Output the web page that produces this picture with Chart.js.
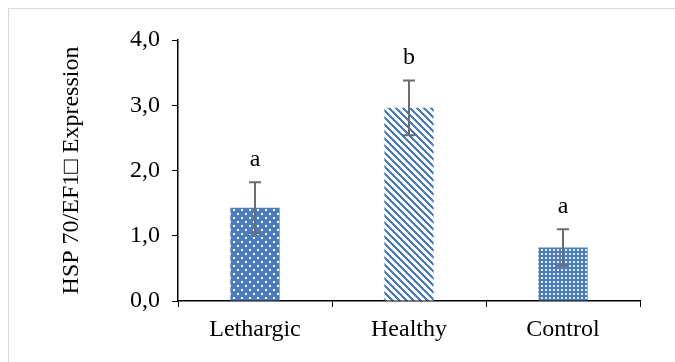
<!DOCTYPE html>
<html>
<head>
<meta charset="utf-8">
<script src="https://cdn.jsdelivr.net/npm/chart.js@4"></script>
<style>
    html, body { margin: 0; padding: 0; background: #fff; }
    #wrap { position: relative; width: 675px; height: 362px; overflow: hidden; }
    #frame { position: absolute; left: 8px; top: 8px; width: 700px; height: 400px; border: 1px solid #d9d9d9; box-sizing: border-box; }
    canvas { position: absolute; left: 0; top: 0; }
</style>
</head>
<body>
<div id="wrap">
    <div id="frame"></div>
    <canvas id="chart" width="675" height="362"></canvas>
</div>
<script>
// Chart data
const categories = ['Lethargic', 'Healthy', 'Control'];
const expression = [1.43, 2.96, 0.82];
const errors = [0.39, 0.42, 0.28];
const letters = ['a', 'b', 'a'];
const yTicks = [0, 1, 2, 3, 4];

const BLUE = '#4a7dc0';
const FONT = "'Liberation Serif', 'Times New Roman', serif";
const FONT_SIZE = 24;

Chart.defaults.font.family = FONT;
Chart.defaults.font.size = FONT_SIZE;
Chart.defaults.color = '#000';

// Fill patterns like the Excel pattern fills
function makePattern(kind) {
    const c = document.createElement('canvas');
    const g = c.getContext('2d');
    if (kind === 'dots') {
        c.width = 8; c.height = 8;
        g.fillStyle = BLUE; g.fillRect(0, 0, 8, 8);
        g.fillStyle = '#ffffff';
        g.fillRect(1, 1, 2, 2);
        g.fillRect(5, 5, 2, 2);
    } else if (kind === 'diag') {
        c.width = 7; c.height = 7;
        g.fillStyle = '#ffffff'; g.fillRect(0, 0, 7, 7);
        g.fillStyle = BLUE;
        for (let r = 0; r < 7; r++) {
            for (let col = 0; col < 7; col++) {
                if (((col - r) % 7 + 7) % 7 < 3) g.fillRect(col, r, 1, 1);
            }
        }
    } else {
        c.width = 4; c.height = 4;
        g.fillStyle = BLUE; g.fillRect(0, 0, 4, 4);
        g.fillStyle = 'rgba(255,255,255,0.85)';
        g.fillRect(1, 1, 2, 2);
    }
    return document.getElementById('chart').getContext('2d').createPattern(c, 'repeat');
}

// Error bars and significance letters
const errorBarPlugin = {
    id: 'errorBars',
    afterDatasetsDraw(chart) {
        const ctx = chart.ctx;
        const meta = chart.getDatasetMeta(0);
        const y = chart.scales.y;
        ctx.save();
        meta.data.forEach((bar, i) => {
            const top = y.getPixelForValue(expression[i] + errors[i]);
            const bottom = y.getPixelForValue(expression[i] - errors[i]);
            ctx.strokeStyle = '#6b6b6b';
            ctx.lineWidth = 2;
            ctx.beginPath();
            ctx.moveTo(bar.x, top); ctx.lineTo(bar.x, bottom);
            ctx.moveTo(bar.x - 6, top); ctx.lineTo(bar.x + 6, top);
            ctx.moveTo(bar.x - 6, bottom); ctx.lineTo(bar.x + 6, bottom);
            ctx.stroke();
            ctx.fillStyle = '#000';
            ctx.font = FONT_SIZE + 'px ' + FONT;
            ctx.textAlign = 'center';
            ctx.textBaseline = 'alphabetic';
            ctx.fillText(letters[i], bar.x, top - 16);
        });
        ctx.restore();
    }
};

new Chart(document.getElementById('chart'), {
    type: 'bar',
    data: {
        labels: categories,
        datasets: [{
            data: expression,
            backgroundColor: [makePattern('dots'), makePattern('diag'), makePattern('grid')],
            barPercentage: 0.32,
            categoryPercentage: 1
        }]
    },
    options: {
        responsive: false,
        animation: false,
        layout: { padding: { top: 40, right: 35, left: 0, bottom: 0 } },
        plugins: {
            legend: { display: false },
            tooltip: { enabled: false }
        },
        scales: {
            x: {
                offset: true,
                grid: { offset: true, drawOnChartArea: false, color: '#000', tickLength: 6 },
                border: { color: '#000', width: 1.5 },
                ticks: { color: '#000', font: { family: FONT, size: FONT_SIZE }, padding: 8 },
                afterFit(scale) { scale.height = 61; }
            },
            y: {
                min: 0,
                max: 4,
                afterBuildTicks(scale) { scale.ticks = yTicks.map(v => ({ value: v })); },
                grid: { drawOnChartArea: false, color: '#000', tickLength: 6 },
                border: { color: '#000', width: 1.5 },
                ticks: {
                    color: '#000',
                    font: { family: FONT, size: FONT_SIZE },
                    padding: 12,
                    callback: v => v.toFixed(1).replace('.', ',')
                },
                title: {
                    display: true,
                    text: 'HSP 70/EF1\u25A1 Expression',
                    color: '#000',
                    font: { family: FONT, size: FONT_SIZE, weight: 'normal' },
                    padding: { top: 57, bottom: 0 }
                },
                afterFit(scale) { scale.width = 178; }
            }
        }
    },
    plugins: [errorBarPlugin]
});
</script>
</body>
</html>
